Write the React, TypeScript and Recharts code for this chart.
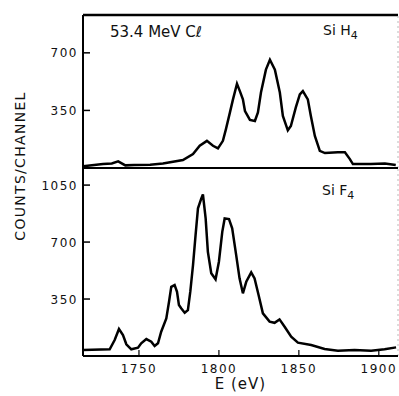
import React from 'react';
import { LineChart, Line, XAxis, YAxis, Label, ReferenceLine } from 'recharts';

const E_DOMAIN: [number, number] = [1715, 1912];
const E_TICKS = [1750, 1800, 1850, 1900];
const SIH4_TICKS = [350, 700];
const SIF4_TICKS = [350, 700, 1050];
const SIH4_MAX = 930;
const SIF4_MAX = 1155;

// Si H4 spectrum
const sih4Energy = [
  1715, 1727.5, 1733, 1737, 1741.5, 1747, 1757, 1765, 1777.5, 1783.8, 1788, 1792.5,
  1796.3, 1799.4, 1802.5, 1804.4, 1806.9, 1808.8, 1811.3, 1813.1, 1815, 1816.3, 1819.4,
  1822.5, 1824.4, 1826.3, 1829.4, 1831.9, 1835, 1838.1, 1840, 1843.1, 1845, 1848.1,
  1850.6, 1852.5, 1855.6, 1857.5, 1860, 1863.1, 1866.3, 1874.4, 1878.8, 1881.9, 1883.8,
  1895, 1903.8, 1910.6,
];
const sih4Counts = [
  10, 24, 28, 40, 16, 18, 20, 28, 48, 85, 135, 165, 135, 119, 165, 236, 338, 417, 512,
  467, 417, 346, 292, 286, 338, 459, 598, 658, 598, 459, 316, 229, 255, 368, 447, 467,
  417, 316, 195, 104, 91, 95, 95, 54, 24, 24, 28, 18,
];

// Si F4 spectrum, lower panel
const sif4Energy = [
  1715, 1731.7, 1734.8, 1737.5, 1740, 1742.1, 1745.2, 1749.4, 1751.4, 1754.6, 1757.7,
  1759.8, 1761.9, 1763.9, 1767.1, 1768.8, 1770.2, 1772.3, 1773.8, 1775, 1776.4, 1778.6,
  1780.6, 1782.1, 1783.8, 1785.4, 1786.9, 1789, 1790, 1791.7, 1793.1, 1795.2, 1797.9,
  1800, 1802.1, 1803.6, 1806.3, 1808.3, 1810.8, 1812.9, 1815, 1817.1, 1820.2, 1822.3,
  1824.8, 1827.5, 1831.7, 1834.8, 1837.9, 1841.1, 1845.2, 1849.4, 1857.7, 1866.1,
  1874.4, 1884.8, 1895.2, 1903.6, 1910.8,
];
const sif4Counts = [
  37, 41, 98, 166, 129, 72, 41, 51, 78, 104, 88, 61, 78, 149, 231, 333, 425, 436, 395,
  313, 293, 266, 282, 395, 559, 743, 907, 968, 993, 845, 640, 508, 471, 579, 763, 845,
  841, 784, 620, 477, 385, 456, 514, 477, 375, 262, 211, 204, 225, 180, 119, 82, 68, 43,
  33, 37, 33, 41, 53,
];

const sih4Data = sih4Energy.map((e, i) => ({ e, v: sih4Counts[i] }));
const sif4Data = sif4Energy.map((e, i) => ({ e, v: sif4Counts[i] }));

const FONT = '"DejaVu Sans", sans-serif';
const INK = '#111';

function YTick({ x, y, payload }: any) {
  return (
    <g>
      <line x1={x + 6} x2={x + 13} y1={y} y2={y} stroke="#000" strokeWidth={1.5} />
      <text x={x + 1} y={y} dy={4.5} textAnchor="end" fill={INK} fontSize={12} letterSpacing={1.5} fontFamily={FONT}>
        {payload.value}
      </text>
    </g>
  );
}

function XTick({ x, y, payload }: any) {
  return (
    <g>
      <line x1={x} x2={x} y1={y - 6} y2={y} stroke="#000" strokeWidth={1.2} />
      <text x={x} y={y + 17} textAnchor="middle" fill={INK} fontSize={12} letterSpacing={1.5} fontFamily={FONT}>
        {payload.value}
      </text>
    </g>
  );
}

const frame = { stroke: '#000', strokeWidth: 2 };

export default function App() {
  return (
    <div style={{ position: 'absolute', left: 0, top: 0, width: 399, height: 396, background: '#fff' }}>
      <div style={{ position: 'absolute', left: 0, top: 0 }}>
        <LineChart width={399} height={169} data={sih4Data} margin={{ top: 15, right: 1, bottom: 0, left: 0 }}>
          <XAxis xAxisId="b" dataKey="e" type="number" domain={E_DOMAIN} allowDataOverflow height={1} tick={false} tickLine={false} axisLine={frame} />
          <YAxis yAxisId="l" domain={[0, SIH4_MAX]} ticks={SIH4_TICKS} allowDataOverflow width={83} tickSize={0} tickMargin={6} tickLine={false} tick={<YTick />} axisLine={frame} />
          <ReferenceLine xAxisId="b" yAxisId="l" y={SIH4_MAX} stroke="#000" strokeWidth={2.5} ifOverflow="visible" />
          <ReferenceLine xAxisId="b" yAxisId="l" x={E_DOMAIN[1]} stroke="#bbb" strokeWidth={1} strokeDasharray="2 3" ifOverflow="visible" />
          <Line xAxisId="b" yAxisId="l" dataKey="v" type="linear" stroke="#000" strokeWidth={2.5} dot={false} isAnimationActive={false} />
        </LineChart>
      </div>
      <div style={{ position: 'absolute', left: 0, top: 168 }}>
        <LineChart width={399} height={228} data={sif4Data} margin={{ top: 0, right: 1, bottom: 0, left: 0 }}>
          <XAxis xAxisId="b" dataKey="e" type="number" domain={E_DOMAIN} ticks={E_TICKS} allowDataOverflow height={40} tickSize={0} tickMargin={0} tickLine={false} tick={<XTick />} axisLine={frame}>
            <Label value="E (eV)" position="insideBottom" offset={7} fill={INK} fontSize={15} fontFamily={FONT} letterSpacing={1} />
          </XAxis>
          <YAxis yAxisId="l" domain={[0, SIF4_MAX]} ticks={SIF4_TICKS} allowDataOverflow width={83} tickSize={0} tickMargin={6} tickLine={false} tick={<YTick />} axisLine={frame} />
          <ReferenceLine xAxisId="b" yAxisId="l" x={E_DOMAIN[1]} stroke="#bbb" strokeWidth={1} strokeDasharray="2 3" ifOverflow="visible" />
          <Line xAxisId="b" yAxisId="l" dataKey="v" type="linear" stroke="#000" strokeWidth={2.5} dot={false} isAnimationActive={false} />
        </LineChart>
      </div>
      <svg width={399} height={396} style={{ position: 'absolute', left: 0, top: 0, pointerEvents: 'none' }}>
        <g fontFamily={FONT} fill={INK}>
          <text x={110} y={37} fontSize={15}>53.4 MeV Cℓ</text>
          <text x={323} y={35} fontSize={14}>
            Si H<tspan dy={4} fontSize={11}>4</tspan>
          </text>
          <text x={322} y={195} fontSize={14}>
            Si F<tspan dy={4} fontSize={11}>4</tspan>
          </text>
          <text x={25} y={166} fontSize={14} letterSpacing={1.3} textAnchor="middle" transform="rotate(-90, 25, 166)">
            COUNTS/CHANNEL
          </text>
        </g>
      </svg>
    </div>
  );
}
